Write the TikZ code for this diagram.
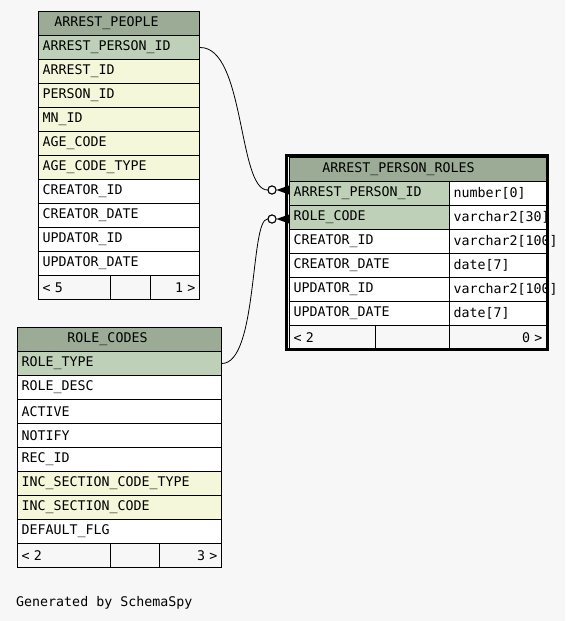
\documentclass[tikz,border=0pt]{standalone}
\usepackage{fontspec}
\newfontfamily\monofam{DejaVu Sans Mono}
\newcommand\mfont{\monofam\fontsize{13.3}{16}\selectfont}
\definecolor{bgc}{HTML}{F7F7F7}
\definecolor{hdrc}{HTML}{9BAB96}
\definecolor{keyc}{HTML}{BED1B8}
\definecolor{idxc}{HTML}{F4F7DA}
\tikzset{
  cell/.style={draw=black, line width=1pt, anchor=north west, minimum height=24pt,
    inner ysep=0pt, inner xsep=4pt, align=left, font=\mfont},
  rcell/.style={cell, align=right},
  hdrcell/.style={draw=black, line width=1pt, anchor=north west, minimum height=24pt,
    inner sep=0pt, fill=hdrc},
  htext/.style={font=\mfont, inner sep=0pt},
  conn/.style={draw=black, line width=0.8pt},
  crow/.style={circle, draw=black, fill=white, line width=1pt, minimum size=8pt, inner sep=0pt},
}
\newcommand\tcell[6]{\node[cell,fill=#5,text width=#4pt] (#1) at (#2,#3) {#6};}
\begin{document}
\begin{tikzpicture}[x=1pt,y=-1pt]
\fill[bgc] (0,0) rectangle (565,621);
\useasboundingbox (0,0) rectangle (565,621);

% ARREST_PEOPLE
\node[hdrcell, minimum width=161pt] (aph) at (38,11) {};
\node[htext] (apht) at ([xshift=-12.5pt]aph.center) {ARREST\_PEOPLE};
\tcell{ap1}{38}{35}{153}{keyc}{ARREST\_PERSON\_ID}
\tcell{ap2}{38}{59}{153}{idxc}{ARREST\_ID}
\tcell{ap3}{38}{83}{153}{idxc}{PERSON\_ID}
\tcell{ap4}{38}{107}{153}{idxc}{MN\_ID}
\tcell{ap5}{38}{131}{153}{idxc}{AGE\_CODE}
\tcell{ap6}{38}{155}{153}{idxc}{AGE\_CODE\_TYPE}
\tcell{ap7}{38}{179}{153}{white}{CREATOR\_ID}
\tcell{ap8}{38}{203}{153}{white}{CREATOR\_DATE}
\tcell{ap9}{38}{227}{153}{white}{UPDATOR\_ID}
\tcell{ap10}{38}{251}{153}{white}{UPDATOR\_DATE}
\tcell{apf1}{38}{275}{64}{bgc}{< 5}
\tcell{apf2}{110}{275}{32}{bgc}{}
\node[rcell,fill=bgc,text width=41pt] (apf3) at (150,275) {1 >};

% ROLE_CODES
\node[hdrcell, minimum width=204pt] (rch) at (17,327) {};
\node[htext] (rcht) at ([xshift=-12pt]rch.center) {ROLE\_CODES};
\tcell{rc1}{17}{351}{196}{keyc}{ROLE\_TYPE}
\tcell{rc2}{17}{375}{196}{white}{ROLE\_DESC}
\tcell{rc3}{17}{399}{196}{white}{ACTIVE}
\tcell{rc4}{17}{423}{196}{white}{NOTIFY}
\tcell{rc5}{17}{447}{196}{white}{REC\_ID}
\tcell{rc6}{17}{471}{196}{idxc}{INC\_SECTION\_CODE\_TYPE}
\tcell{rc7}{17}{495}{196}{idxc}{INC\_SECTION\_CODE}
\tcell{rc8}{17}{519}{196}{white}{DEFAULT\_FLG}
\tcell{rcf1}{17}{543}{85}{bgc}{< 2}
\tcell{rcf2}{110}{543}{41}{bgc}{}
\node[rcell,fill=bgc,text width=54pt] (rcf3) at (159,543) {3 >};

% ARREST_PERSON_ROLES
\node[hdrcell, minimum width=257pt] (arh) at (289,157) {};
\node[htext] (arht) at ([xshift=-19.5pt]arh.center) {ARREST\_PERSON\_ROLES};
\tcell{ar1}{289}{181}{152}{keyc}{ARREST\_PERSON\_ID}
\tcell{ar1t}{449}{181}{89}{white}{number[0]}
\tcell{ar2}{289}{205}{152}{keyc}{ROLE\_CODE}
\tcell{ar2t}{449}{205}{89}{white}{varchar2[30]}
\tcell{ar3}{289}{229}{152}{white}{CREATOR\_ID}
\tcell{ar3t}{449}{229}{89}{white}{\mbox{varchar2[100]}}
\tcell{ar4}{289}{253}{152}{white}{CREATOR\_DATE}
\tcell{ar4t}{449}{253}{89}{white}{date[7]}
\tcell{ar5}{289}{277}{152}{white}{UPDATOR\_ID}
\tcell{ar5t}{449}{277}{89}{white}{\mbox{varchar2[100]}}
\tcell{ar6}{289}{301}{152}{white}{UPDATOR\_DATE}
\tcell{ar6t}{449}{301}{89}{white}{date[7]}
\tcell{arf1}{289}{325}{78}{bgc}{< 2}
\tcell{arf2}{375}{325}{66}{bgc}{}
\node[rcell,fill=bgc,text width=89pt] (arf3) at (449,325) {0 >};
\draw[line width=3pt] (286.5,155.5) rectangle (547.5,349.5);

% connectors
\node[crow] (o1) at (272,190) {};
\node[crow] (o2) at (272,219) {};
\draw[conn] (ap1.east) .. controls (245,47) and (238,190) .. (o1.west);
\draw[conn] (rc1.east) .. controls (258,363) and (250,219) .. (o2.west);
\fill (o1.east) -- ([yshift=-4.5pt]ar1.west |- o1.east) -- ([yshift=4.5pt]ar1.west |- o1.east) -- cycle;
\fill (o2.east) -- ([yshift=-4.5pt]ar2.west |- o2.east) -- ([yshift=4.5pt]ar2.west |- o2.east) -- cycle;
\node[crow] at (o1) {};
\node[crow] at (o2) {};

\node[htext, anchor=west] (gen) at (16,603) {Generated by SchemaSpy};
\end{tikzpicture}
\end{document}
